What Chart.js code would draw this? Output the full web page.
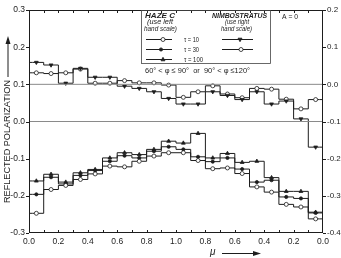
<!DOCTYPE html>
<html>
<head>
<meta charset="utf-8">
<script src="https://cdn.jsdelivr.net/npm/chart.js@4.4.1/dist/chart.umd.min.js"></script>
<style>
  html, body { margin: 0; padding: 0; background: #fff; }
</style>
</head>
<body>
<canvas id="chart" width="341" height="258"></canvas>
<script>
// tick labels (mu runs 0 -> 1 -> 0 across the plot)
const xTickLabels = ["0.0", "0.2", "0.4", "0.6", "0.8", "1.0", "0.8", "0.6", "0.4", "0.2", "0.0"];
const yLeftLabels = ["-0.3", "-0.2", "-0.1", "0.0", "0.1", "0.2", "0.3"];
const yRightLabels = ["-0.4", "-0.3", "-0.2", "-0.1", "0.0", "0.1", "0.2"];
const binWidth = 0.1;

// HAZE C, left hand scale (one value per mu bin)
const hazeTau10 = [-0.247, -0.183, -0.172, -0.156, -0.141, -0.120, -0.122, -0.107, -0.093, -0.084,
  -0.084, -0.105, -0.127, -0.125, -0.140, -0.176, -0.190, -0.223, -0.230, -0.262];
const hazeTau30 = [-0.196, -0.150, -0.168, -0.145, -0.132, -0.107, -0.092, -0.098, -0.080, -0.068,
  -0.075, -0.095, -0.108, -0.098, -0.128, -0.163, -0.158, -0.203, -0.207, -0.246];
const hazeTau100 = [-0.160, -0.142, -0.163, -0.138, -0.129, -0.098, -0.084, -0.089, -0.075, -0.053,
  -0.058, -0.032, -0.098, -0.086, -0.110, -0.107, -0.151, -0.188, -0.188, -0.244];

// NIMBOSTRATUS, right hand scale
const nimboTau10 = [0.059, 0.052, 0.003, 0.043, 0.019, 0.019, -0.005, -0.011, -0.020, -0.038,
  -0.053, -0.053, -0.020, -0.030, -0.041, -0.020, -0.053, -0.045, -0.093, -0.169];
const nimboTau30 = [0.031, 0.029, 0.031, 0.041, 0.003, 0.003, 0.010, 0.004, 0.004, -0.002,
  -0.035, -0.020, -0.004, -0.026, -0.036, -0.011, -0.013, -0.040, -0.066, -0.041];

const ink = "#1d1d1d";
const face = '"Liberation Sans", Arial, sans-serif';

const openCircle = { shape: "circle", rotation: 0, fill: "#fff", radius: 2 };
const dot = { shape: "circle", rotation: 0, fill: ink, radius: 1.6 };
const triUp = { shape: "triangle", rotation: 0, fill: ink, radius: 2.2 };
const triDown = { shape: "triangle", rotation: 180, fill: ink, radius: 2.2 };

const stepData = (values) => [
  { x: 0, y: values[0] },
  ...values.map((v, i) => ({ x: (i + 0.5) * binWidth, y: v })),
  { x: values.length * binWidth, y: values[values.length - 1] },
];

const stepSeries = (label, values, axis, style) => ({
  label,
  data: stepData(values),
  yAxisID: axis,
  stepped: "middle",
  borderColor: ink,
  borderWidth: 1,
  pointRadius: [0, ...values.map(() => style.radius), 0],
  pointStyle: style.shape,
  rotation: style.rotation,
  pointBackgroundColor: style.fill,
  pointBorderColor: ink,
  pointBorderWidth: 0.8,
});

const refLine = (axis) => ({
  data: [{ x: 0, y: 0 }, { x: 2, y: 0 }],
  yAxisID: axis,
  borderColor: "#8a8a8a",
  borderWidth: 1,
  pointRadius: 0,
});

const fitText = (ctx, text, x, y, w) => {
  const m = ctx.measureText(text).width;
  ctx.save();
  ctx.translate(x, y);
  ctx.scale(w / m, 1);
  ctx.fillText(text, 0, 0);
  ctx.restore();
};

const drawMarker = (ctx, style, x, y) => {
  const r = style.radius;
  ctx.beginPath();
  if (style.shape === "circle") {
    ctx.arc(x, y, r, 0, Math.PI * 2);
  } else {
    const s = style.rotation ? -1 : 1;
    ctx.moveTo(x, y - s * r);
    ctx.lineTo(x + r * 0.9, y + s * r * 0.6);
    ctx.lineTo(x - r * 0.9, y + s * r * 0.6);
    ctx.closePath();
  }
  ctx.fillStyle = style.fill;
  ctx.fill();
  ctx.lineWidth = 0.8;
  ctx.stroke();
};

const sample = (ctx, x0, x1, y, mx, style) => {
  ctx.beginPath();
  ctx.moveTo(x0, y);
  ctx.lineTo(x1, y);
  ctx.lineWidth = 1;
  ctx.stroke();
  drawMarker(ctx, style, mx, y);
};

const paperFrame = {
  id: "paperFrame",
  afterDraw(chart) {
    const { ctx, chartArea: a, scales } = chart;
    ctx.save();
    ctx.strokeStyle = ink;
    ctx.fillStyle = ink;
    ctx.lineWidth = 1;
    ctx.strokeRect(a.left + 0.5, a.top + 0.5, a.right - a.left - 1, a.bottom - a.top - 1);

    ctx.beginPath();
    for (let k = 1; k < 20; k++) {
      const px = Math.round(scales.x.getPixelForValue(k * binWidth)) + 0.5;
      ctx.moveTo(px, a.bottom);
      ctx.lineTo(px, a.bottom - 3);
      ctx.moveTo(px, a.top);
      ctx.lineTo(px, a.top + 3);
    }
    scales.y.ticks.forEach((t) => {
      const py = Math.round(scales.y.getPixelForValue(t.value)) + 0.5;
      ctx.moveTo(a.left - 3, py);
      ctx.lineTo(a.left, py);
    });
    scales.y1.ticks.forEach((t) => {
      const py = Math.round(scales.y1.getPixelForValue(t.value)) + 0.5;
      ctx.moveTo(a.right, py);
      ctx.lineTo(a.right + 3, py);
    });
    ctx.stroke();

    // axis titles
    ctx.textBaseline = "middle";
    ctx.font = "9px " + face;
    ctx.save();
    ctx.translate(8, 203);
    ctx.rotate(-Math.PI / 2);
    fitText(ctx, "REFLECTED POLARIZATION", 0, 0, 123);
    ctx.restore();
    ctx.beginPath();
    ctx.moveTo(8, 77);
    ctx.lineTo(8, 42);
    ctx.stroke();
    ctx.beginPath();
    ctx.moveTo(8, 36);
    ctx.lineTo(10.5, 44);
    ctx.lineTo(5.5, 44);
    ctx.closePath();
    ctx.fill();

    ctx.font = "italic 10px " + face;
    ctx.fillText("\u03bc", 210, 252);
    ctx.beginPath();
    ctx.moveTo(222, 253.5);
    ctx.lineTo(254, 253.5);
    ctx.stroke();
    ctx.beginPath();
    ctx.moveTo(261, 253.5);
    ctx.lineTo(253, 251);
    ctx.lineTo(253, 256);
    ctx.closePath();
    ctx.fill();

    // legend box
    ctx.lineWidth = 0.8;
    ctx.strokeStyle = "#444";
    ctx.strokeRect(141.5, 10.5, 129, 53);
    ctx.strokeStyle = ink;
    ctx.font = "bold italic 8px " + face;
    fitText(ctx, "HAZE C", 145, 15.5, 30);
    fitText(ctx, "NIMBOSTRATUS", 212, 15.5, 55);
    ctx.font = "italic 7px " + face;
    fitText(ctx, "(use left", 147, 22.5, 26);
    fitText(ctx, "hand scale)", 144, 29.5, 33);
    fitText(ctx, "(use right", 225, 22.5, 24);
    fitText(ctx, "hand scale)", 221, 29.5, 31);

    ctx.font = "8px " + face;
    fitText(ctx, "\u03c4 = 10", 184, 39.5, 15);
    fitText(ctx, "\u03c4 = 30", 184, 49.5, 15);
    fitText(ctx, "\u03c4 = 100", 184, 59.5, 19);
    sample(ctx, 146, 172, 39.5, 163, openCircle);
    sample(ctx, 146, 172, 49.5, 161, dot);
    sample(ctx, 146, 172, 59.5, 163, triUp);
    sample(ctx, 222, 253, 39.5, 240, triDown);
    sample(ctx, 222, 253, 49.5, 241, openCircle);

    ctx.fillStyle = ink;
    ctx.font = "8px " + face;
    fitText(ctx, "60\u00b0 < \u03c6 \u2264 90\u00b0  or  90\u00b0 < \u03c6 \u2264120\u00b0", 145, 70.5, 105);
    fitText(ctx, "A = 0", 282, 17, 16);
    ctx.restore();
  },
};

const tickFont = { family: face, size: 8.5 };
const noGrid = { display: false, drawTicks: false, tickLength: 0 };

new Chart(document.getElementById("chart"), {
  type: "line",
  data: {
    datasets: [
      refLine("y"),
      refLine("y1"),
      stepSeries("HAZE C \u03c4 = 10", hazeTau10, "y", openCircle),
      stepSeries("HAZE C \u03c4 = 30", hazeTau30, "y", dot),
      stepSeries("HAZE C \u03c4 = 100", hazeTau100, "y", triUp),
      stepSeries("NIMBOSTRATUS \u03c4 = 10", nimboTau10, "y1", triDown),
      stepSeries("NIMBOSTRATUS \u03c4 = 30", nimboTau30, "y1", openCircle),
    ],
  },
  options: {
    responsive: false,
    animation: false,
    layout: { padding: { top: 10, left: 0, right: 0, bottom: 0 } },
    plugins: {
      legend: { display: false },
      tooltip: { enabled: false },
    },
    scales: {
      x: {
        type: "linear",
        min: 0,
        max: 2,
        grid: noGrid,
        border: { display: false },
        ticks: {
          stepSize: 0.2,
          autoSkip: false,
          maxRotation: 0,
          padding: 4,
          color: ink,
          font: tickFont,
          callback: (v, i) => xTickLabels[i],
        },
        afterFit: (s) => { s.height = 25; },
      },
      y: {
        position: "left",
        min: -0.3,
        max: 0.3,
        grid: noGrid,
        border: { display: false },
        ticks: {
          stepSize: 0.1,
          padding: 4,
          color: ink,
          font: tickFont,
          callback: (v, i) => yLeftLabels[i],
        },
        afterFit: (s) => { s.width = 29; },
      },
      y1: {
        position: "right",
        min: -0.4,
        max: 0.2,
        grid: noGrid,
        border: { display: false },
        ticks: {
          stepSize: 0.1,
          padding: 4,
          color: ink,
          font: { family: face, size: 8 },
          callback: (v, i) => yRightLabels[i],
        },
        afterFit: (s) => { s.width = 18; },
      },
    },
  },
  plugins: [paperFrame],
});
</script>
</body>
</html>
